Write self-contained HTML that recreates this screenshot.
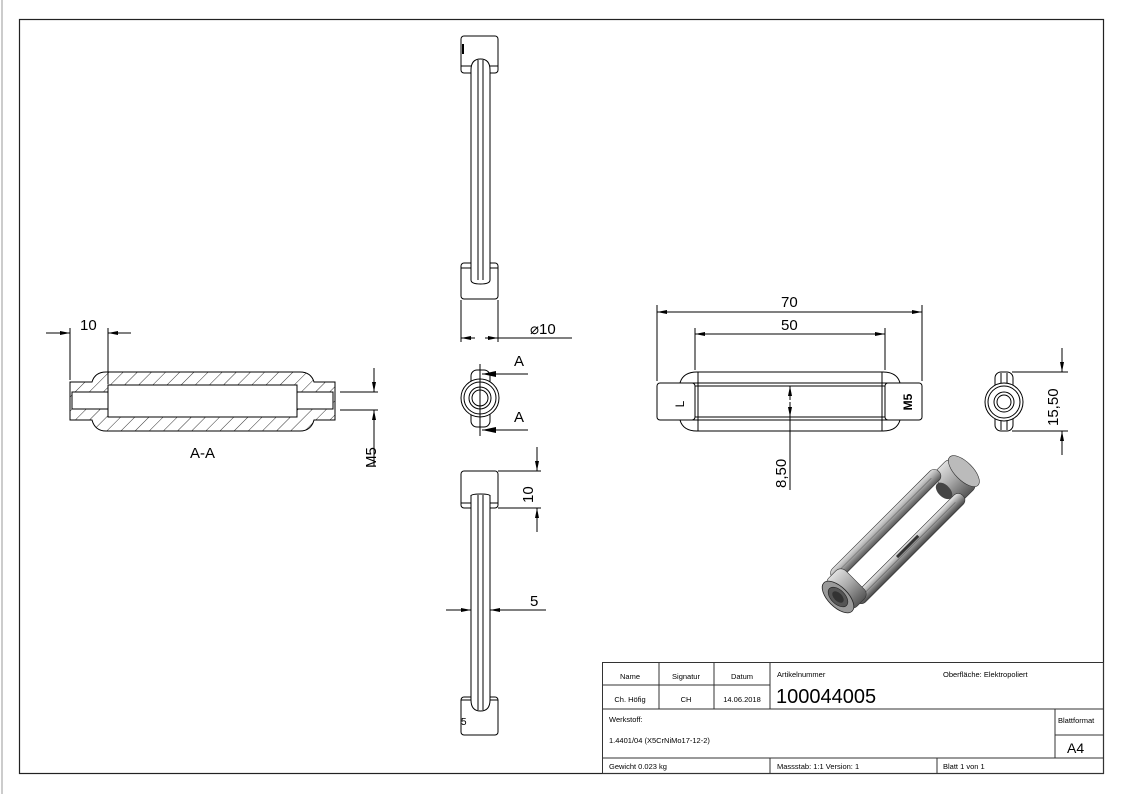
<!DOCTYPE html>
<html><head><meta charset="utf-8"><style>
html,body{margin:0;padding:0;background:#fff}
svg{display:block}
text{font-family:"Liberation Sans",sans-serif;fill:#000}
</style></head><body>
<svg width="1123" height="794" viewBox="0 0 1123 794" xmlns="http://www.w3.org/2000/svg">
<defs>
<pattern id="h" width="10" height="10" patternUnits="userSpaceOnUse" patternTransform="rotate(45)">
<line x1="0" y1="0" x2="0" y2="10" stroke="#000" stroke-width="0.8"/>
</pattern>
<marker id="ar" viewBox="0 0 10 4" refX="10" refY="2" markerWidth="10" markerHeight="4" orient="auto-start-reverse" markerUnits="userSpaceOnUse">
<path d="M0,0 L10,2 L0,4 Z" fill="#000"/></marker>
<marker id="ab" viewBox="0 0 14 6" refX="14" refY="3" markerWidth="14" markerHeight="6" orient="auto" markerUnits="userSpaceOnUse">
<path d="M0,0 L14,3 L0,6 Z" fill="#000"/></marker>
<linearGradient id="g1" x1="0" y1="0" x2="0" y2="1">
<stop offset="0" stop-color="#e0e0e0"/><stop offset="0.45" stop-color="#aaa"/><stop offset="1" stop-color="#555"/></linearGradient>
<linearGradient id="g2" x1="0" y1="0" x2="0" y2="1">
<stop offset="0" stop-color="#eee"/><stop offset="0.5" stop-color="#999"/><stop offset="1" stop-color="#444"/></linearGradient>
</defs>
<line x1="2" y1="0" x2="2" y2="794" stroke="#999" stroke-width="1"/>
<rect x="19.5" y="19.5" width="1084" height="754" fill="none" stroke="#222" stroke-width="1.2"/>

<!-- Section A-A -->
<g stroke="#000" stroke-width="1" fill="none">
<path d="M70,382 H92 Q95,372 106,372 H300 Q311,372 314,382 H335 V420 H314 Q311,431 300,431 H106 Q95,431 92,420 H70 Z" fill="url(#h)"/>
<rect x="108" y="385" width="189" height="32" fill="#fff"/>
<rect x="72" y="392" width="36" height="17" fill="#fff"/>
<rect x="297" y="392" width="36" height="17" fill="#fff"/>
<line x1="70" y1="380" x2="70" y2="328"/>
<line x1="108" y1="384" x2="108" y2="328"/>
<line x1="46" y1="333" x2="70" y2="333" marker-end="url(#ar)"/>
<line x1="131" y1="333" x2="108" y2="333" marker-end="url(#ar)"/>
<line x1="340" y1="392" x2="378" y2="392"/>
<line x1="340" y1="410" x2="378" y2="410"/>
<line x1="374" y1="368" x2="374" y2="392" marker-end="url(#ar)"/>
<line x1="374" y1="466" x2="374" y2="410" marker-end="url(#ar)"/>
</g>
<text x="80" y="330" font-size="15">10</text>
<text x="190" y="458" font-size="15">A-A</text>
<text transform="translate(376,468) rotate(-90)" font-size="15">M5</text>

<!-- Top view -->
<g stroke="#000" stroke-width="1" fill="#fff">
<rect x="461" y="36" width="37" height="37" rx="3"/>
<rect x="461" y="263" width="37" height="36" rx="3"/>
<path d="M471,280 V70 Q471,59 480.5,59 Q490,59 490,70 V280"/>
<line x1="478" y1="60" x2="478" y2="280"/><line x1="483" y1="60" x2="483" y2="280"/>
<line x1="461" y1="66" x2="471" y2="66"/><line x1="490" y1="66" x2="498" y2="66"/>
<line x1="461" y1="268" x2="471" y2="268"/><line x1="490" y1="268" x2="498" y2="268"/>
<path d="M471,263 V280 Q471,284 480.5,284 Q490,284 490,280 V263" fill="none"/>
</g>
<rect x="462" y="44" width="2" height="10" fill="#000"/>
<g stroke="#000" stroke-width="1" fill="none">
<line x1="461" y1="300" x2="461" y2="342"/><line x1="498" y1="300" x2="498" y2="342"/>
<line x1="572" y1="338" x2="498" y2="338"/>
<line x1="475" y1="338" x2="461" y2="338" marker-end="url(#ar)"/>
<line x1="485" y1="338" x2="498" y2="338" marker-end="url(#ar)"/>
</g>
<text x="530" y="334" font-size="15">⌀10</text>

<!-- end view with section -->
<g stroke="#000" stroke-width="1" fill="#fff">
<rect x="471" y="370" width="19" height="57" rx="6"/>
<circle cx="480" cy="398" r="19"/><circle cx="480" cy="398" r="16" fill="none"/>
<circle cx="480" cy="398" r="11"/><circle cx="480" cy="398" r="8" fill="none"/>
<line x1="480" y1="364" x2="480" y2="436"/>
<line x1="528" y1="374" x2="482" y2="374" marker-end="url(#ab)"/>
<line x1="528" y1="430" x2="482" y2="430" marker-end="url(#ab)"/>
</g>
<text x="514" y="366" font-size="15">A</text>
<text x="514" y="422" font-size="15">A</text>

<!-- bottom view -->
<g stroke="#000" stroke-width="1" fill="#fff">
<rect x="461" y="471" width="37" height="37" rx="3"/>
<rect x="461" y="697" width="37" height="38" rx="3"/>
<path d="M471,495 V700 Q471,711 480.5,711 Q490,711 490,700 V495"/>
<path d="M471,508 V496 Q471,494 480.5,494 Q490,494 490,496 V508" fill="none"/>
<line x1="478" y1="495" x2="478" y2="710"/><line x1="483" y1="495" x2="483" y2="710"/>
<line x1="461" y1="503" x2="471" y2="503"/><line x1="490" y1="503" x2="498" y2="503"/>
<line x1="461" y1="700" x2="471" y2="700"/><line x1="490" y1="700" x2="498" y2="700"/>
</g>
<text x="461" y="725" font-size="10">5</text>
<g stroke="#000" stroke-width="1" fill="none">
<line x1="498" y1="471" x2="541" y2="471"/><line x1="498" y1="508" x2="541" y2="508"/>
<line x1="537" y1="447" x2="537" y2="471" marker-end="url(#ar)"/>
<line x1="537" y1="532" x2="537" y2="508" marker-end="url(#ar)"/>
<line x1="446" y1="610" x2="471" y2="610" marker-end="url(#ar)"/>
<line x1="546" y1="610" x2="490" y2="610" marker-end="url(#ar)"/>
</g>
<text transform="translate(533,503) rotate(-90)" font-size="15">10</text>
<text x="530" y="606" font-size="15">5</text>

<!-- front view -->
<g stroke="#000" stroke-width="1" fill="#fff">
<path d="M680,383 Q683,372 697,372 H883 Q897,372 900,383 Z"/>
<path d="M680,420 Q683,431 697,431 H883 Q897,431 900,420 Z"/>
<rect x="657" y="383" width="38" height="37" rx="3"/>
<rect x="885" y="383" width="37" height="37" rx="3"/>
<rect x="695" y="386" width="190" height="31"/>
<line x1="698" y1="372" x2="698" y2="431"/><line x1="882" y1="372" x2="882" y2="431"/>
</g>
<text transform="translate(684,404) rotate(-90)" font-size="12" text-anchor="middle">L</text>
<text transform="translate(912,402) rotate(-90)" font-size="12" font-weight="bold" text-anchor="middle">M5</text>
<g stroke="#000" stroke-width="1" fill="none">
<line x1="657" y1="381" x2="657" y2="305"/><line x1="922" y1="381" x2="922" y2="305"/>
<line x1="695" y1="370" x2="695" y2="328"/><line x1="885" y1="370" x2="885" y2="328"/>
<line x1="790" y1="312" x2="657" y2="312" marker-end="url(#ar)"/>
<line x1="790" y1="312" x2="922" y2="312" marker-end="url(#ar)"/>
<line x1="790" y1="334" x2="695" y2="334" marker-end="url(#ar)"/>
<line x1="790" y1="334" x2="885" y2="334" marker-end="url(#ar)"/>
<line x1="790" y1="400" x2="790" y2="386" marker-end="url(#ar)"/>
<line x1="790" y1="402" x2="790" y2="417" marker-end="url(#ar)"/>
<line x1="790" y1="417" x2="790" y2="490"/>
</g>
<text x="781" y="307" font-size="15">70</text>
<text x="781" y="330" font-size="15">50</text>
<text transform="translate(786,488) rotate(-90)" font-size="15">8,50</text>

<!-- right end view -->
<g stroke="#000" stroke-width="1" fill="#fff">
<rect x="995" y="372" width="18" height="59" rx="6"/>
<line x1="1001" y1="373" x2="1001" y2="430"/><line x1="1007" y1="373" x2="1007" y2="430"/>
<circle cx="1004" cy="402" r="19"/><circle cx="1004" cy="402" r="16" fill="none"/>
<circle cx="1004" cy="402" r="10"/><circle cx="1004" cy="402" r="7" fill="none"/>
</g>
<g stroke="#000" stroke-width="1" fill="none">
<line x1="1012" y1="372" x2="1068" y2="372"/><line x1="1012" y1="431" x2="1068" y2="431"/>
<line x1="1062" y1="348" x2="1062" y2="372" marker-end="url(#ar)"/>
<line x1="1062" y1="455" x2="1062" y2="431" marker-end="url(#ar)"/>
</g>
<text transform="translate(1058,426) rotate(-90)" font-size="15">15,50</text>

<!-- iso view -->
<g transform="translate(838,597) rotate(-45)">
<rect x="152" y="-20" width="26" height="40" fill="url(#g1)" stroke="#333" stroke-width="0.6" rx="7"/>
<ellipse cx="178" cy="0" rx="9" ry="20" fill="#bbb" stroke="#333" stroke-width="0.6"/>
<rect x="10" y="-24" width="150" height="13" fill="url(#g1)" stroke="#333" stroke-width="0.6" rx="6"/>
<rect x="10" y="10" width="150" height="13" fill="url(#g2)" stroke="#333" stroke-width="0.6" rx="6"/>
<line x1="20" y1="-18" x2="150" y2="-18" stroke="#555" stroke-width="0.5"/>
<line x1="20" y1="16" x2="150" y2="16" stroke="#555" stroke-width="0.5"/>
<ellipse cx="150" cy="0" rx="6" ry="10" fill="#444"/>
<rect x="70" y="12" width="30" height="3" fill="#333"/>
<rect x="0" y="-20" width="24" height="40" fill="url(#g1)" stroke="#333" stroke-width="0.6" rx="7"/>
<ellipse cx="0" cy="0" rx="10" ry="20" fill="#999" stroke="#222" stroke-width="0.8"/>
<ellipse cx="0" cy="0" rx="7" ry="12" fill="#555" stroke="#222" stroke-width="0.6"/>
<ellipse cx="0" cy="0" rx="4" ry="7" fill="#333"/>
</g>

<!-- title block -->
<g stroke="#333" stroke-width="1" fill="none">
<rect x="602.5" y="662.5" width="501" height="111"/>
<line x1="602" y1="685" x2="770" y2="685"/>
<line x1="602" y1="709" x2="1104" y2="709"/>
<line x1="602" y1="758" x2="1104" y2="758"/>
<line x1="659" y1="662" x2="659" y2="709"/>
<line x1="714" y1="662" x2="714" y2="709"/>
<line x1="770" y1="662" x2="770" y2="709"/>
<line x1="770" y1="758" x2="770" y2="774"/>
<line x1="937" y1="758" x2="937" y2="774"/>
<line x1="1055" y1="709" x2="1055" y2="758"/>
<line x1="1055" y1="735" x2="1104" y2="735"/>
</g>
<g font-size="7.5">
<text x="630" y="679" text-anchor="middle">Name</text>
<text x="686" y="679" text-anchor="middle">Signatur</text>
<text x="742" y="679" text-anchor="middle">Datum</text>
<text x="630" y="702" text-anchor="middle">Ch. Höfig</text>
<text x="686" y="702" text-anchor="middle">CH</text>
<text x="742" y="702" text-anchor="middle">14.06.2018</text>
<text x="777" y="677">Artikelnummer</text>
<text x="943" y="677">Oberfläche:  Elektropoliert</text>
<text x="609" y="722">Werkstoff:</text>
<text x="609" y="743">1.4401/04 (X5CrNiMo17-12-2)</text>
<text x="1058" y="723">Blattformat</text>
<text x="609" y="769">Gewicht 0.023 kg</text>
<text x="777" y="769">Massstab: 1:1      Version:   1</text>
<text x="943" y="769">Blatt 1 von 1</text>
</g>
<text x="776" y="703" font-size="20">100044005</text>
<text x="1067" y="753" font-size="14">A4</text>
</svg>
</body></html>
